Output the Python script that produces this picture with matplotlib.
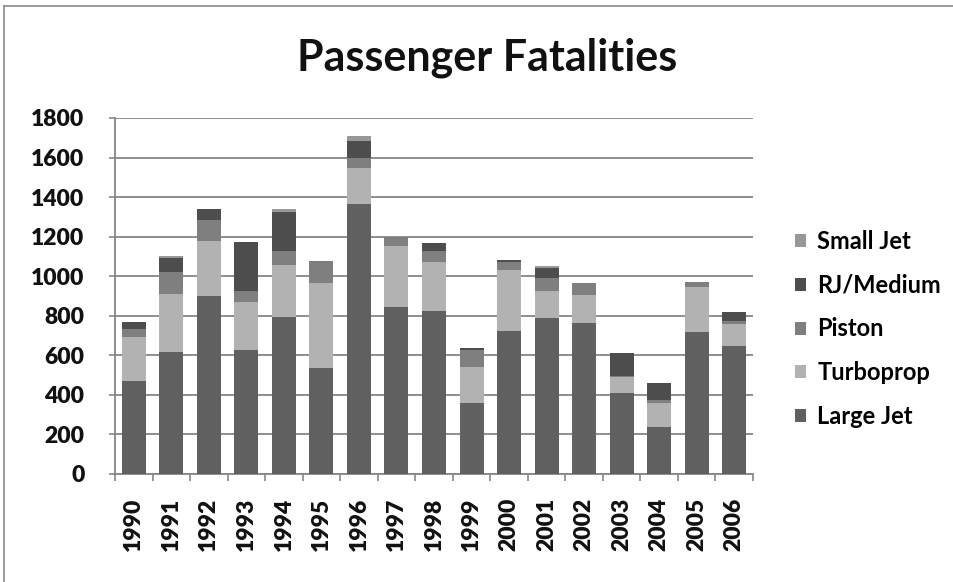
import matplotlib
matplotlib.use("Agg")
import matplotlib.pyplot as plt
from matplotlib.lines import Line2D
from matplotlib.ticker import FixedLocator
import numpy as np

plt.rcParams['font.family'] = ['Lato', 'DejaVu Sans']

years = [str(y) for y in range(1990, 2007)]
large_jet = [472, 618, 901, 625, 795, 537, 1364, 843, 826, 357, 723, 787, 763, 408, 236, 716, 649]
turboprop = [219, 292, 277, 245, 262, 429, 185, 310, 244, 186, 308, 140, 140, 84, 125, 228, 108]
piston = [42, 113, 105, 55, 72, 113, 50, 45, 59, 84, 39, 62, 63, 5, 13, 28, 17]
rj_medium = [37, 67, 55, 250, 194, 0, 86, 0, 37, 12, 10, 51, 0, 113, 88, 0, 47]
small_jet = [0, 14, 0, 0, 15, 0, 25, 0, 0, 0, 0, 13, 0, 0, 0, 0, 0]

series = [
    ("Large Jet", large_jet, "#606060"),
    ("Turboprop", turboprop, "#b2b2b2"),
    ("Piston", piston, "#7f7f7f"),
    ("RJ/Medium", rj_medium, "#4d4d4d"),
    ("Small Jet", small_jet, "#989898"),
]

fig = plt.figure(figsize=(9.54, 5.82), dpi=100)
ax = fig.add_axes([115 / 954, 1 - 474 / 582, (753 - 115) / 954, (474 - 118) / 582])

x = np.arange(len(years))
bottom = np.zeros(len(years))
bars = []
for name, vals, col in series:
    b = ax.bar(x, vals, width=0.64, bottom=bottom, color=col, label=name, zorder=3)
    bars.append(b)
    bottom += np.array(vals)

ax.set_xlim(-0.5, len(years) - 0.5)
ax.set_ylim(0, 1800)
ax.set_yticks(range(0, 1801, 200))
ax.set_yticklabels([str(v) for v in range(0, 1801, 200)], fontsize=16.5, fontweight="heavy", color="#111111")
ax.set_xticks(x)
ax.set_xticklabels(years, rotation=90, fontsize=16.5, fontweight="heavy", color="#111111")
ax.tick_params(axis="x", which="major", length=0, pad=17)
ax.xaxis.set_minor_locator(FixedLocator(np.arange(-0.5, len(years), 1)))
ax.tick_params(axis="x", which="minor", length=5, color="#868686", width=1.2)
ax.tick_params(axis="y", length=4, color="#868686", width=1.2, pad=18)

ax.grid(axis="y", color="#868686", linewidth=1.3, zorder=0)
for s in ["top", "right"]:
    ax.spines[s].set_visible(False)
for s in ["left", "bottom"]:
    ax.spines[s].set_color("#868686")
    ax.spines[s].set_linewidth(1.3)

fig.text(487 / 954, 1 - 70 / 582, "Passenger Fatalities", ha="center", va="baseline",
         fontsize=31, fontweight="bold", color="#111111")

handles = [b for b in bars][::-1]
labels = [s[0] for s in series][::-1]
fig.legend(handles, labels, loc="center left", bbox_to_anchor=(795 / 954, 1 - 329 / 582),
           frameon=False, borderpad=0, borderaxespad=0, handlelength=0.47, handleheight=0.47,
           handletextpad=0.47, labelspacing=0.88, prop={"size": 17, "weight": "bold"})

# outer chart border (partially visible)
fig.add_artist(Line2D([4 / 954, 4 / 954], [0, 1 - 6 / 582], transform=fig.transFigure, color="#8a8a8a", lw=1.2))
fig.add_artist(Line2D([4 / 954, 1], [1 - 6 / 582, 1 - 6 / 582], transform=fig.transFigure, color="#8a8a8a", lw=1.2))

fig.savefig("out.png", dpi=100)
